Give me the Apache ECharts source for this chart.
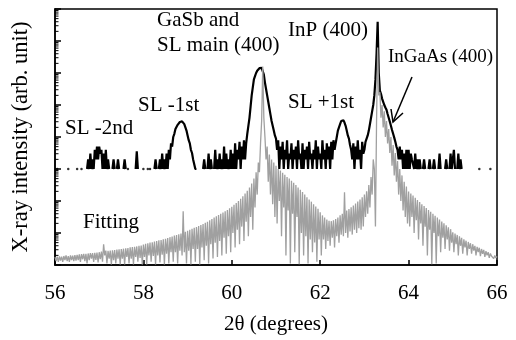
<!DOCTYPE html>
<html><head><meta charset="utf-8">
<script src="https://cdn.jsdelivr.net/npm/echarts@6/dist/echarts.min.js"></script>
<style>html,body{margin:0;padding:0;background:#fff}#c{width:516px;height:340px}</style>
</head><body><div id="c"></div>
<script>
// x grid (2θ, degrees)
const X_START = 56, X_STEP = 0.025;
const xTickLabels = [56, 58, 60, 62, 64, 66];
const measLog = [
 null,null,null,null,null,null,null,null,null,null,null,null,null,null,null,null,null,null,null,null,
 null,null,null,null,null,null,null,null,null,3.0,3.3,3.0,3.48,3.0,3.3,3.0,3.6,3.3,3.7,3.3,
 3.7,3.48,3.6,3.0,3.48,3.0,3.6,3.0,3.3,3.0,null,null,3.0,3.3,3.0,null,3.0,3.3,3.0,null,
 null,null,3.0,3.3,3.0,null,null,null,null,null,null,null,null,3.0,3.55,3.0,null,null,null,null,
 null,null,null,null,null,null,null,null,null,null,3.0,3.3,3.0,null,3.0,3.3,3.0,3.48,3.0,3.3,
 3.0,3.48,3.0,3.6,3.3,3.8,3.7,4.0,4.1,4.25,4.3,4.38,4.42,4.47,4.5,4.49,4.45,4.4,4.3,4.2,
 4.05,3.9,3.8,3.6,3.5,3.3,3.3,3.0,3.0,null,null,null,null,null,3.0,3.3,3.0,null,3.0,3.48,
 3.0,3.3,3.0,null,3.0,3.6,3.0,3.3,3.0,3.48,3.0,3.3,3.0,3.7,3.0,3.48,3.0,3.3,3.0,3.6,
 3.0,3.48,3.0,3.8,3.0,3.6,3.3,3.85,3.0,3.7,3.3,3.9,3.3,3.8,4.1,4.35,4.6,4.95,5.3,5.55,
 5.8,5.9,6.0,6.07,6.12,6.15,6.17,6.16,6.1,5.95,5.7,5.5,5.3,5.1,4.9,4.7,4.5,4.35,4.2,4.05,
 3.95,3.6,3.9,3.0,3.7,3.3,3.85,3.0,3.6,3.3,3.9,3.0,3.48,3.3,3.8,3.0,3.6,3.3,3.7,3.0,
 3.9,3.3,3.48,3.0,3.8,3.0,3.6,3.3,3.7,3.0,3.85,3.3,3.48,3.0,3.6,3.3,3.9,3.0,3.7,3.3,
 3.48,3.0,3.9,3.3,3.6,3.0,3.8,3.3,3.7,3.0,3.85,3.3,3.9,3.6,3.8,4.0,4.2,4.3,4.4,4.5,
 4.55,4.52,4.45,4.35,4.2,4.05,3.95,3.75,3.6,3.3,3.8,3.0,3.7,3.3,3.9,3.3,3.6,3.0,3.85,3.48,
 3.6,3.85,3.9,4.05,4.2,4.4,4.6,4.8,5.0,5.3,5.8,6.6,7.6,6.0,5.45,5.35,5.2,5.1,5.0,4.92,
 4.85,4.72,4.6,4.48,4.35,4.22,4.1,3.98,3.85,3.7,3.6,3.3,3.7,3.3,3.6,3.0,3.48,3.0,3.6,3.0,
 3.6,3.0,3.48,3.3,3.3,3.0,3.48,3.0,3.3,3.0,3.3,3.0,null,3.0,3.3,3.0,null,null,3.0,3.3,
 3.0,null,3.0,3.3,3.0,null,null,3.0,3.48,3.0,null,null,null,3.0,3.3,3.0,null,3.0,3.48,3.0,
 3.0,3.6,3.0,null,3.0,3.48,3.0,3.3,3.0,null,null,null,null,null,null,null,null,null,null,null,
 null,null,null,null,null,null,null,null,null,null,null,null,null,null,null,null,null,null,null,null,
 null
];
// isolated single-count points of the measured trace
const measDotsX = [56.05, 56.3, 56.5, 56.6, 57.65, 58.0, 58.1, 58.15, 65.6, 65.85];
const measDotLevel = 3.0;
// fitted trace, log10 intensity (decades)
const fitLog = [
 0.25,0.12,0.26,0.1,0.27,0.14,0.26,0.1,0.28,0.15,0.3,0.12,0.28,0.1,0.3,0.15,0.29,0.12,0.31,0.14,
 0.32,0.15,0.33,0.1,0.34,0.18,0.35,0.12,0.35,0.05,0.36,0.15,0.37,0.2,0.37,0.1,0.38,0.16,0.39,0.08,
 0.4,0.18,0.42,0.1,0.65,0.3,0.45,0.05,0.44,0.2,0.45,0.02,0.46,0.15,0.47,0.05,0.48,0.2,0.49,0.02,
 0.5,0.2,0.51,0.02,0.52,0.25,0.53,0.05,0.55,0.2,0.56,0.02,0.57,0.25,0.58,0.1,0.6,0.22,0.61,0.02,
 0.64,0.25,0.66,0.02,0.68,0.3,0.7,0.1,0.71,0.28,0.73,0.02,0.75,0.3,0.77,0.08,0.78,0.32,0.8,0.02,
 0.82,0.35,0.84,0.05,0.87,0.4,0.89,0.1,0.92,0.4,0.94,0.05,0.96,0.45,0.98,0.3,1.68,0.4,1.04,0.05,
 1.07,0.45,1.1,0.02,1.13,0.5,1.16,0.1,1.19,0.5,1.22,0.02,1.25,0.55,1.28,0.15,1.32,0.6,1.35,0.05,
 1.4,0.65,1.44,0.2,1.48,0.7,1.52,0.25,1.56,0.75,1.6,0.3,1.64,0.85,1.68,0.35,1.72,0.9,1.77,0.4,
 1.82,1.0,1.88,0.55,1.94,1.1,2.0,0.65,2.07,1.2,2.15,0.75,2.23,1.35,2.32,0.9,2.42,1.5,2.55,1.1,
 2.7,1.8,2.9,2.2,3.2,2.9,3.8,4.5,6.2,4.6,4.0,3.3,3.7,2.6,3.45,2.2,3.3,1.9,3.2,1.5,
 3.1,1.3,3.0,2.0,2.95,0.9,2.88,1.8,2.82,0.3,2.75,1.7,2.7,0.05,2.63,1.6,2.57,0.4,2.5,1.5,
 2.42,0.02,2.35,1.0,2.28,0.3,2.2,0.9,2.12,0.05,2.05,0.8,1.98,0.4,1.9,0.7,1.83,0.1,1.76,0.8,
 1.65,0.3,1.55,0.8,1.48,0.5,1.42,0.75,1.38,0.6,1.37,0.85,1.4,0.55,1.44,0.9,1.48,0.7,1.55,0.95,
 1.6,0.9,2.27,1.0,1.7,0.85,1.75,1.05,1.8,0.95,1.86,1.1,1.92,1.0,1.98,1.15,2.05,1.1,2.12,1.2,
 2.2,1.5,2.3,1.6,2.5,1.8,2.75,2.2,3.3,3.0,1.2,4.5,6.8,5.3,5.4,4.6,5.0,4.3,4.8,4.0,
 4.5,3.8,4.25,3.5,4.0,3.1,3.75,2.8,3.5,2.6,3.25,2.2,3.0,2.0,2.8,1.7,2.6,1.5,2.45,1.3,
 2.3,1.2,2.23,1.5,2.17,1.0,2.1,1.4,2.03,0.8,1.97,1.3,1.9,0.6,1.84,1.2,1.78,0.3,1.72,1.1,
 1.66,0.02,1.6,1.0,1.54,0.05,1.48,0.9,1.42,0.4,1.36,0.85,1.3,0.5,1.24,0.8,1.18,0.45,1.12,0.7,
 1.02,0.4,0.98,0.65,0.94,0.3,0.9,0.6,0.85,0.35,0.8,0.55,0.76,0.3,0.72,0.5,0.68,0.35,0.65,0.45,
 0.6,0.3,0.57,0.4,0.54,0.28,0.5,0.35,0.47,0.25,0.43,0.3,0.4,0.22,0.36,0.28,0.33,0.2,0.3,0.22,
 0.27
];
// minor tick multipliers within each decade
const minorMultipliers = [2, 3, 4, 5, 6, 7, 8, 9];
const decades = [0, 1, 2, 3, 4, 5, 6, 7];

const FONT = "'Liberation Serif','Times New Roman',serif";
const xAt = i => +(X_START + X_STEP * i).toFixed(3);
const measData = measLog.map((v, i) => [xAt(i), v === null ? '-' : v]);
const fitData = fitLog.map((v, i) => [xAt(i), v]);
const dotData = measDotsX.map(x => [x, measDotLevel]);
const minorTicks = [];
decades.forEach(d => minorMultipliers.forEach(m => minorTicks.push([xTickLabels[0], d + Math.log10(m)])));

const chart = echarts.init(document.getElementById('c'), null, {renderer: 'canvas'});
const txt = (x, y, s, size) => ({type: 'text', left: x, top: y, style: {text: s, font: (size || 21) + 'px ' + FONT, fill: '#000'}});
chart.setOption({
  animation: false,
  backgroundColor: '#fff',
  grid: {left: 55, right: 19, top: 9, bottom: 74, show: true, borderColor: '#000', borderWidth: 1.5},
  xAxis: {
    type: 'value', min: 56, max: 66, interval: 2,
    axisLine: {lineStyle: {color: '#000', width: 1.5}},
    axisTick: {inside: true, length: 5, lineStyle: {color: '#000', width: 1.5}},
    axisLabel: {color: '#000', fontFamily: FONT, fontSize: 21, margin: 18},
    splitLine: {show: false},
    name: '2θ (degrees)', nameLocation: 'middle', nameGap: 49,
    nameTextStyle: {color: '#000', fontFamily: FONT, fontSize: 21}
  },
  yAxis: {
    type: 'value', min: 0, max: 8, interval: 1,
    axisLine: {lineStyle: {color: '#000', width: 1.5}},
    axisTick: {inside: true, length: 6, lineStyle: {color: '#000', width: 1.5}},
    axisLabel: {show: false},
    splitLine: {show: false},
    name: 'X-ray intensity (arb. unit)', nameLocation: 'middle', nameGap: 22,
    nameTextStyle: {color: '#000', fontFamily: FONT, fontSize: 22.5}
  },
  series: [
    {
      type: 'custom', data: minorTicks, silent: true, z: 5,
      renderItem: (params, api) => {
        const p = api.coord([api.value(0), api.value(1)]);
        return {type: 'line', shape: {x1: p[0], y1: p[1], x2: p[0] + 3.5, y2: p[1]}, style: {stroke: '#000', lineWidth: 1}};
      }
    },
    {type: 'line', data: measData, connectNulls: false, showSymbol: false, z: 2,
      lineStyle: {color: '#000', width: 2.2}},
    {type: 'scatter', data: dotData, symbolSize: 2.5, itemStyle: {color: '#000'}, z: 2},
    {type: 'line', data: fitData, showSymbol: false, z: 3,
      lineStyle: {color: '#a0a0a0', width: 1.3}}
  ],
  graphic: [
    txt(157, 10, 'GaSb and'),
    txt(157, 35, 'SL main (400)'),
    txt(288, 20, 'InP (400)'),
    txt(388, 48, 'InGaAs (400)', 19),
    txt(288, 92, 'SL +1st'),
    txt(138, 95, 'SL -1st'),
    txt(65, 118, 'SL -2nd'),
    txt(83, 212, 'Fitting'),
    {type: 'polyline', shape: {points: [[412, 77], [393, 122]]}, style: {stroke: '#000', lineWidth: 1.5, fill: null}},
    {type: 'polyline', shape: {points: [[391, 109], [393, 122], [403, 113]]}, style: {stroke: '#000', lineWidth: 1.5, fill: null}}
  ]
});
</script></body></html>
